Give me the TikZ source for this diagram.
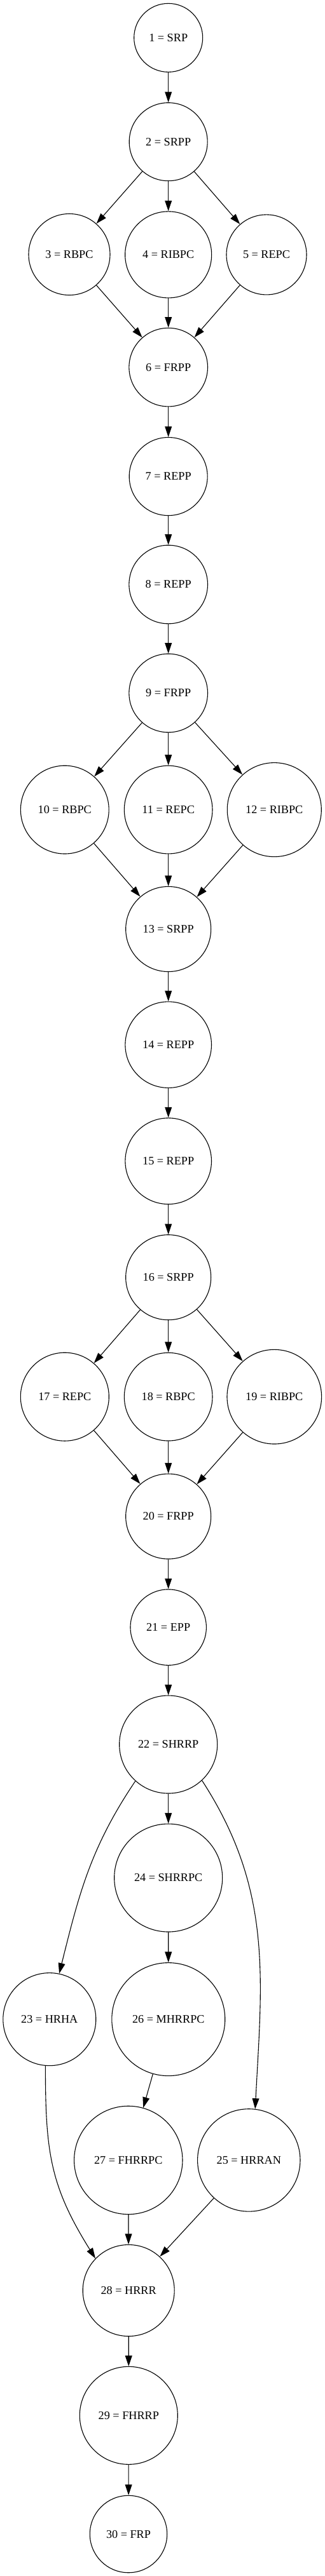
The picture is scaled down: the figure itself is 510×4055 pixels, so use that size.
\documentclass[tikz,border=0pt]{standalone}
\usepackage{fontspec}
\setmainfont{Liberation Serif}
\usetikzlibrary{arrows.meta}
\tikzstyle{state}=[circle, draw, line width=0.55pt, inner sep=0pt,
	                 font=\fontsize{9.1}{11}\selectfont]
\tikzstyle{edge}=[line width=0.55pt, -{Triangle[length=8.3pt,width=5.4pt]}]

\begin{document}
\begin{tikzpicture}[x=0.5pt, y=0.5pt]
\useasboundingbox (0,0) rectangle (510,-4055);
\node[state, minimum size=54pt] (n1) at (264.7,-59.4) {1 = SRP};
\node[state, minimum size=61.5pt] (n2) at (264.7,-223.2) {2 = SRPP};
\node[state, minimum size=64pt] (n3) at (109,-400.5) {3 = RBPC};
\node[state, minimum size=68pt] (n4) at (264.7,-400.9) {4 = RIBPC};
\node[state, minimum size=63pt] (n5) at (419,-400.9) {5 = REPC};
\node[state, minimum size=61.8pt] (n6) at (264.7,-578.1) {6 = FRPP};
\node[state, minimum size=61.5pt] (n7) at (264.7,-750) {7 = REPP};
\node[state, minimum size=61.8pt] (n8) at (264.7,-920) {8 = REPP};
\node[state, minimum size=61.8pt] (n9) at (264.7,-1091) {9 = FRPP};
\node[state, minimum size=69.4pt] (n10) at (101.8,-1274.6) {10 = RBPC};
\node[state, minimum size=69.3pt] (n11) at (264.7,-1274.6) {11 = REPC};
\node[state, minimum size=74pt] (n12) at (431.3,-1274.6) {12 = RIBPC};
\node[state, minimum size=67pt] (n13) at (264.7,-1462.5) {13 = SRPP};
\node[state, minimum size=67.8pt] (n14) at (264.7,-1644.6) {14 = REPP};
\node[state, minimum size=67.8pt] (n15) at (264.7,-1827.7) {15 = REPP};
\node[state, minimum size=67pt] (n16) at (264.7,-2010.7) {16 = SRPP};
\node[state, minimum size=69.5pt] (n17) at (101.8,-2198.7) {17 = REPC};
\node[state, minimum size=69.3pt] (n18) at (264.7,-2198.7) {18 = RBPC};
\node[state, minimum size=74.3pt] (n19) at (431.3,-2198.7) {19 = RIBPC};
\node[state, minimum size=67pt] (n20) at (264.7,-2387) {20 = FRPP};
\node[state, minimum size=59.7pt] (n21) at (264.7,-2561.6) {21 = EPP};
\node[state, minimum size=77pt] (n22) at (264.7,-2746) {22 = SHRRP};
\node[state, minimum size=73pt] (n23) at (77.8,-3178.6) {23 = HRHA};
\node[state, minimum size=85pt] (n24) at (264.7,-2956) {24 = SHRRPC};
\node[state, minimum size=80.7pt] (n25) at (391.3,-3400.4) {25 = HRRAN};
\node[state, minimum size=89pt] (n26) at (264.8,-3178.6) {26 = MHRRPC};
\node[state, minimum size=85.2pt] (n27) at (201.8,-3400.4) {27 = FHRRPC};
\node[state, minimum size=72pt] (n28) at (202.2,-3605.5) {28 = HRRR};
\node[state, minimum size=77pt] (n29) at (202.3,-3802.3) {29 = FHRRP};
\node[state, minimum size=60.7pt] (n30) at (202,-3989) {30 = FRP};
% straight edges
\foreach \a/\b in {1/2,2/3,2/4,2/5,3/6,4/6,5/6,6/7,7/8,8/9,9/10,9/11,9/12,
	10/13,11/13,12/13,13/14,14/15,15/16,16/17,16/18,16/19,17/20,18/20,19/20,
	20/21,21/22,22/24,24/26,26/27,27/28,25/28,28/29,29/30}
	\draw[edge] (n\a) -- (n\b);
% curved edges
\draw[edge] (n22.228) to[out=236, in=76] (n23.78);
\draw[edge] (n22.313) to[out=303, in=87] (n25.83);
\draw[edge] (n23.265) to[out=270, in=122, looseness=1.1] (n28.136);
\end{tikzpicture}
\end{document}
